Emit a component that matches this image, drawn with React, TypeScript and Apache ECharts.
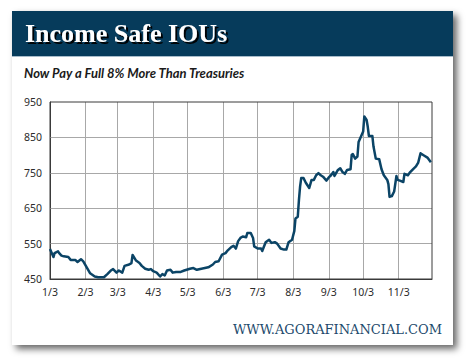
import React, { useEffect, useRef } from "react";
import * as echarts from "echarts";

// ---- data ----
const MONTH_DAYS = [31, 28, 31, 30, 31, 30, 31, 31, 30, 31, 30, 31];
const Y_TICKS = [450, 550, 650, 750, 850, 950];
const GRID_VALUES = [550, 650, 750, 850];

const DATES = [
  "1/3", "1/6", "1/7", "1/10", "1/11", "1/13", "1/15", "1/19", "1/21", "1/25", "1/27", "1/30",
  "2/1", "2/4", "2/7", "2/11", "2/14", "2/19", "2/22", "2/25", "2/27",
  "3/2", "3/4", "3/7", "3/9", "3/13", "3/15", "3/16", "3/19", "3/22", "3/24", "3/27", "3/30",
  "4/1", "4/3", "4/6", "4/9", "4/11", "4/13", "4/15", "4/18", "4/20", "4/23", "4/27", "4/30",
  "5/5", "5/8", "5/11", "5/15", "5/18", "5/21", "5/25", "5/27", "5/30",
  "6/2", "6/5", "6/7", "6/10", "6/12", "6/14", "6/16", "6/18", "6/20", "6/23", "6/24", "6/27", "6/29", "6/30",
  "7/3", "7/6", "7/7", "7/10", "7/13", "7/15", "7/18", "7/20", "7/23", "7/26", "7/28", "7/30",
  "8/2", "8/4", "8/5", "8/7", "8/8", "8/9", "8/10", "8/12", "8/14", "8/17", "8/19", "8/21", "8/23", "8/25", "8/27", "8/29",
  "9/1", "9/3", "9/5", "9/7", "9/8", "9/11", "9/13", "9/15", "9/17", "9/19", "9/22", "9/23", "9/24", "9/26", "9/28", "9/29",
  "10/1", "10/3", "10/4", "10/6", "10/7", "10/8", "10/11", "10/12", "10/14", "10/17", "10/19", "10/21", "10/24", "10/25", "10/26", "10/28", "10/30",
  "11/1", "11/2", "11/4", "11/7", "11/8", "11/11", "11/13", "11/16", "11/18", "11/20", "11/22", "11/25", "11/28",
  "12/1",
];

const VALUES = [
  535, 512, 523, 528, 523, 516, 514, 512, 504, 504, 498, 506,
  500, 483, 466, 457, 455, 455, 464, 474, 478,
  468, 474, 468, 487, 491, 495, 518, 502, 495, 487, 479, 476,
  478, 472, 468, 457, 464, 460, 474, 476, 468, 470, 470, 474,
  479, 481, 476, 479, 481, 483, 491, 498, 500,
  519, 523, 531, 540, 544, 536, 557, 566, 570, 568, 580, 580, 566, 542,
  536, 536, 529, 554, 561, 552, 554, 550, 536, 533, 533, 554,
  561, 586, 621, 626, 673, 711, 735, 735, 722, 707, 730, 730, 743, 749, 743, 739,
  728, 737, 743, 752, 741, 758, 763, 752, 747, 758, 760, 801, 803, 790, 796, 837,
  852, 867, 909, 899, 880, 854, 854, 824, 790, 788, 760, 743, 730, 718, 682, 684, 697,
  741, 730, 728, 724, 747, 743, 752, 762, 768, 779, 805, 799, 793,
  780,
];

const TITLE = "Income Safe IOUs";
const SUBTITLE = "Now Pay a Full 8% More Than Treasuries";
const FOOTER = "WWW.AGORAFINANCIAL.COM";

function buildDays(): string[] {
  const out: string[] = [];
  for (let m = 1; m <= 12; m++) {
    for (let d = 1; d <= MONTH_DAYS[m - 1]; d++) {
      if (m === 1 && d < 3) continue;
      if (m === 12 && d > 2) continue;
      out.push(`${m}/${d}`);
    }
  }
  return out;
}

const NAVY = "#063b5b";
const LINE = "#0b4466";

export default function App() {
  const ref = useRef<HTMLDivElement>(null);

  useEffect(() => {
    if (!ref.current) return;
    const chart = echarts.init(ref.current, undefined, { renderer: "svg" });
    const days = buildDays();
    const isThird = (_i: number, v: string) => String(v).split("/")[1] === "3";
    const labelFont = "'Noto Sans', 'Open Sans', sans-serif";

    chart.setOption({
      animation: false,
      backgroundColor: "#ffffff",
      grid: {
        left: 50,
        right: 38,
        top: 102,
        bottom: 84,
        show: true,
        borderColor: "#3a3a3a",
        borderWidth: 1,
        backgroundColor: "transparent",
        z: 3,
      },
      xAxis: {
        type: "category",
        data: days,
        boundaryGap: false,
        axisLine: { show: true, lineStyle: { color: "#3a3a3a", width: 1 } },
        axisTick: { show: false },
        axisLabel: {
          interval: isThird,
          color: "#2b2b2b",
          fontFamily: labelFont,
          fontSize: 10.5,
          margin: 7,
        },
        splitLine: {
          show: true,
          interval: isThird,
          lineStyle: { color: "#a8a8a8", width: 1 },
        },
      },
      yAxis: {
        type: "value",
        min: 450,
        max: 950,
        axisLine: { show: true, lineStyle: { color: "#3a3a3a", width: 1 } },
        axisTick: { show: false, customValues: Y_TICKS },
        axisLabel: {
          customValues: Y_TICKS,
          color: "#2b2b2b",
          fontFamily: labelFont,
          fontSize: 10.5,
          margin: 8,
        },
        splitLine: { show: false },
      },
      graphic: [
        {
          type: "rect",
          z: -10,
          shape: { x: 12, y: 11, width: 441, height: 334 },
          style: {
            fill: "#ffffff",
            shadowBlur: 7,
            shadowOffsetX: 4,
            shadowOffsetY: 4,
            shadowColor: "rgba(0,0,0,0.6)",
          },
        },
        {
          type: "rect",
          z: -9,
          shape: { x: 12, y: 11, width: 441, height: 45 },
          style: { fill: NAVY },
        },
        {
          type: "rect",
          z: -9,
          shape: { x: 12, y: 56, width: 441, height: 1 },
          style: { fill: "#a7bccb" },
        },
        {
          type: "text",
          z: 10,
          x: 25,
          y: 33,
          style: {
            text: TITLE,
            fill: "#ffffff",
            font: "bold 26px 'Liberation Serif', 'DejaVu Serif', serif",
            verticalAlign: "middle",
            textShadowColor: "rgba(0,0,0,0.95)",
            textShadowOffsetX: 2,
            textShadowOffsetY: 2,
            textShadowBlur: 1,
          },
        },
        {
          type: "text",
          z: 10,
          x: 24,
          y: 73,
          style: {
            text: SUBTITLE,
            fill: "#1a1a1a",
            font: "italic bold 13px Lato, 'Noto Sans', sans-serif",
            verticalAlign: "middle",
          },
        },
        {
          type: "text",
          z: 10,
          x: 442,
          y: 329,
          style: {
            text: FOOTER,
            fill: "#1d4a6c",
            font: "13px 'DejaVu Serif', 'Liberation Serif', serif",
            align: "right",
            verticalAlign: "middle",
          },
        },
      ],
      series: [
        {
          type: "line",
          data: DATES.map((d, i) => [d, VALUES[i]]),
          symbol: "none",
          lineStyle: { color: LINE, width: 2.5, join: "round" },
          z: 5,
          markLine: {
            silent: true,
            symbol: "none",
            label: { show: false },
            lineStyle: { color: "#a8a8a8", width: 1, type: "solid" },
            z: 1,
            data: GRID_VALUES.map((v) => ({ yAxis: v })),
          },
        },
      ],
    });

    return () => chart.dispose();
  }, []);

  return (
    <div
      ref={ref}
      style={{ position: "absolute", left: 0, top: 0, width: 470, height: 363 }}
    />
  );
}
